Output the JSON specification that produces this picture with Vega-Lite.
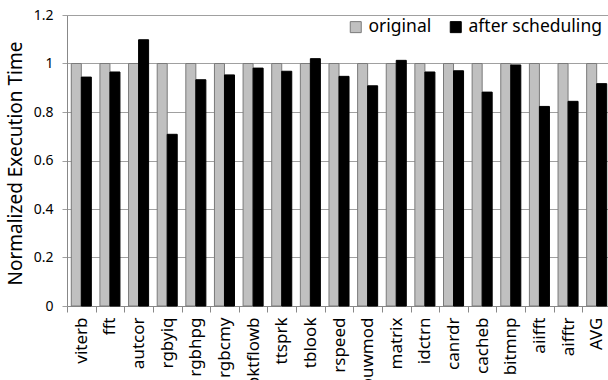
{
  "$schema": "https://vega.github.io/schema/vega-lite/v6.json",
  "width": 544,
  "height": 291,
  "autosize": "none",
  "padding": {"left": 67, "top": 15, "right": 0, "bottom": 74},
  "config": {"font": "Noto Sans", "view": {"stroke": null}},
  "data": {
    "values": [
      {"benchmark": "viterb", "series": "original", "value": 1},
      {"benchmark": "viterb", "series": "after scheduling", "value": 0.944},
      {"benchmark": "fft", "series": "original", "value": 1},
      {"benchmark": "fft", "series": "after scheduling", "value": 0.965},
      {"benchmark": "autcor", "series": "original", "value": 1},
      {"benchmark": "autcor", "series": "after scheduling", "value": 1.098},
      {"benchmark": "rgbyiq", "series": "original", "value": 1},
      {"benchmark": "rgbyiq", "series": "after scheduling", "value": 0.708},
      {"benchmark": "rgbhpg", "series": "original", "value": 1},
      {"benchmark": "rgbhpg", "series": "after scheduling", "value": 0.933},
      {"benchmark": "rgbcmy", "series": "original", "value": 1},
      {"benchmark": "rgbcmy", "series": "after scheduling", "value": 0.953},
      {"benchmark": "pktflowb", "series": "original", "value": 1},
      {"benchmark": "pktflowb", "series": "after scheduling", "value": 0.981},
      {"benchmark": "ttsprk", "series": "original", "value": 1},
      {"benchmark": "ttsprk", "series": "after scheduling", "value": 0.968},
      {"benchmark": "tblook", "series": "original", "value": 1},
      {"benchmark": "tblook", "series": "after scheduling", "value": 1.02},
      {"benchmark": "rspeed", "series": "original", "value": 1},
      {"benchmark": "rspeed", "series": "after scheduling", "value": 0.947},
      {"benchmark": "puwmod", "series": "original", "value": 1},
      {"benchmark": "puwmod", "series": "after scheduling", "value": 0.908},
      {"benchmark": "matrix", "series": "original", "value": 1},
      {"benchmark": "matrix", "series": "after scheduling", "value": 1.013},
      {"benchmark": "idctrn", "series": "original", "value": 1},
      {"benchmark": "idctrn", "series": "after scheduling", "value": 0.965},
      {"benchmark": "canrdr", "series": "original", "value": 1},
      {"benchmark": "canrdr", "series": "after scheduling", "value": 0.97},
      {"benchmark": "cacheb", "series": "original", "value": 1},
      {"benchmark": "cacheb", "series": "after scheduling", "value": 0.882},
      {"benchmark": "bitmnp", "series": "original", "value": 1},
      {"benchmark": "bitmnp", "series": "after scheduling", "value": 0.994},
      {"benchmark": "aiifft", "series": "original", "value": 1},
      {"benchmark": "aiifft", "series": "after scheduling", "value": 0.823},
      {"benchmark": "aifftr", "series": "original", "value": 1},
      {"benchmark": "aifftr", "series": "after scheduling", "value": 0.844},
      {"benchmark": "AVG", "series": "original", "value": 1},
      {"benchmark": "AVG", "series": "after scheduling", "value": 0.917}
    ]
  },
  "mark": {"type": "bar", "strokeWidth": 1},
  "encoding": {
    "x": {
      "field": "benchmark",
      "type": "nominal",
      "sort": null,
      "scale": {"paddingInner": 0.3, "paddingOuter": 0.15},
      "axis": {
        "title": null,
        "labelAngle": -90,
        "labelAlign": "right",
        "labelBaseline": "middle",
        "labelFontSize": 17,
        "labelColor": "#000000",
        "labelPadding": 5,
        "bandPosition": 0,
        "tickOffset": -4.3,
        "labelOffset": 4.3,
        "tickSize": 6,
        "tickColor": "#888888",
        "domainColor": "#888888",
        "grid": false
      }
    },
    "xOffset": {"field": "series", "type": "nominal", "sort": ["original", "after scheduling"]},
    "y": {
      "field": "value",
      "type": "quantitative",
      "scale": {"domain": [0, 1.2], "nice": false},
      "axis": {
        "values": [0, 0.2, 0.4, 0.6, 0.8, 1, 1.2],
        "format": "~g",
        "title": "Normalized Execution Time",
        "titleFontSize": 19,
        "titleFontWeight": "normal",
        "titleColor": "#000000",
        "titleAngle": -90,
        "titleAlign": "center",
        "titleBaseline": "middle",
        "titleX": -52,
        "titleY": 148,
        "labelFontSize": 14,
        "labelColor": "#000000",
        "labelPadding": 9,
        "tickSize": 5,
        "tickColor": "#a0a0a0",
        "domainColor": "#888888",
        "gridColor": "#a0a0a0",
        "gridOpacity": 1
      }
    },
    "color": {
      "field": "series",
      "type": "nominal",
      "scale": {"domain": ["original", "after scheduling"], "range": ["#c0c0c0", "#000000"]},
      "legend": {
        "title": null,
        "orient": "none",
        "direction": "horizontal",
        "legendX": 280,
        "legendY": 3,
        "symbolType": "square",
        "symbolSize": 121,
        "symbolStrokeWidth": 1,
        "labelFontSize": 17.5,
        "labelColor": "#000000",
        "labelOffset": 4,
        "columnPadding": 15
      }
    },
    "stroke": {
      "field": "series",
      "type": "nominal",
      "scale": {"domain": ["original", "after scheduling"], "range": ["#7a7a7a", "#000000"]},
      "legend": null
    }
  }
}
